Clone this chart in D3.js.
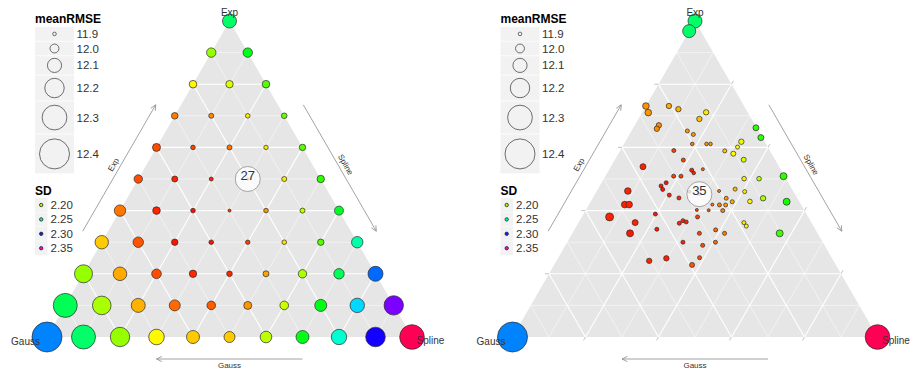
<!DOCTYPE html>
<html lang="en">
<head>
<meta charset="UTF-8">
<title>Ternary meanRMSE</title>
<script src="https://cdn.jsdelivr.net/npm/d3@7"></script>
<style>
    body {
        margin: 0;
        background: #fff;
    }

    svg {
        display: block;
        font-family: "Liberation Sans", Arial, sans-serif;
    }
</style>
</head>
<body>
<div id="chart"></div>
<script>
// left panel: weight grid in steps of 0.1
// one row per Exp weight (1.0 at the top down to 0.0), Spline weight rising left to right
const gridRMSE = [
    [12.097],
    [12.010, 12.010],
    [11.976, 11.972, 11.976],
    [11.957, 11.927, 11.919, 11.938],
    [11.983, 11.919, 11.927, 11.915, 11.953],
    [11.991, 11.945, 11.908, 11.880, 11.927, 11.972],
    [12.048, 11.976, 11.919, 11.889, 11.919, 11.927, 12.002],
    [12.086, 12.029, 11.953, 11.919, 11.915, 11.919, 11.953, 12.048],
    [12.173, 12.089, 12.014, 11.972, 11.938, 11.945, 11.991, 12.029, 12.116],
    [12.286, 12.184, 12.097, 12.040, 11.995, 11.983, 11.995, 12.059, 12.105, 12.199],
    [12.400, 12.286, 12.199, 12.127, 12.078, 12.040, 12.052, 12.078, 12.123, 12.203, 12.298]
]
const gridSD = [
    [2.244],
    [2.205, 2.231],
    [2.188, 2.194, 2.215],
    [2.169, 2.171, 2.186, 2.212],
    [2.162, 2.160, 2.168, 2.186, 2.215],
    [2.162, 2.155, 2.155, 2.160, 2.186, 2.221],
    [2.168, 2.155, 2.152, 2.158, 2.173, 2.199, 2.234],
    [2.181, 2.163, 2.153, 2.153, 2.160, 2.184, 2.215, 2.254],
    [2.205, 2.176, 2.162, 2.156, 2.156, 2.175, 2.202, 2.241, 2.290],
    [2.241, 2.202, 2.177, 2.166, 2.164, 2.173, 2.197, 2.231, 2.273, 2.325],
    [2.286, 2.244, 2.205, 2.188, 2.181, 2.181, 2.199, 2.231, 2.260, 2.309, 2.371]
]

// right panel: fitted weights (Gauss = 1 - Exp - Spline)
const fitExp = [0.731, 0.710, 0.731, 0.721, 0.711, 0.690, 0.670, 0.659, 0.652, 0.641,
    0.662, 0.631, 0.618, 0.601, 0.611, 0.611, 0.611, 0.589, 0.580, 0.561,
    0.590, 0.560, 0.539, 0.528, 0.519, 0.531, 0.509, 0.509, 0.501, 0.501,
    0.509, 0.488, 0.478, 0.467, 0.462, 0.449, 0.440, 0.462, 0.468, 0.460,
    0.439, 0.439, 0.428, 0.419, 0.419, 0.419, 0.418, 0.418, 0.428, 0.400,
    0.402, 0.401, 0.380, 0.389, 0.380, 0.362, 0.360, 0.368, 0.364, 0.362,
    0.351, 0.339, 0.328, 0.328, 0.341, 0.328, 0.328, 0.300, 0.300, 0.290,
    0.241, 0.249, 0.251, 0.228, 0.429, 1.000, 0.968, 0.000, 0.000, 0.452, 0.460]
const fitSpline = [0.000, 0.017, 0.063, 0.094, 0.175, 0.167, 0.066, 0.066, 0.153, 0.175,
    0.336, 0.365, 0.318, 0.316, 0.187, 0.226, 0.237, 0.287, 0.315, 0.353,
    0.147, 0.188, 0.088, 0.227, 0.237, 0.256, 0.187, 0.207, 0.384, 0.425,
    0.488, 0.177, 0.168, 0.178, 0.085, 0.205, 0.236, 0.335, 0.376, 0.406,
    0.366, 0.467, 0.537, 0.098, 0.110, 0.338, 0.358, 0.375, 0.388, 0.376,
    0.304, 0.337, 0.076, 0.197, 0.317, 0.155, 0.277, 0.283, 0.294, 0.453,
    0.465, 0.387, 0.417, 0.158, 0.225, 0.348, 0.568, 0.317, 0.406, 0.376,
    0.254, 0.297, 0.387, 0.378, 0.436, 0.000, 0.000, 0.000, 1.000, 0.286, 0.255]
const fitRMSE = [11.957, 11.957, 11.934, 11.934, 11.934, 11.934, 11.934, 11.934, 11.908, 11.908,
    11.945, 11.945, 11.934, 11.908, 11.900, 11.900, 11.900, 11.908, 11.927, 11.927,
    11.908, 11.908, 11.945, 11.908, 11.900, 11.889, 11.908, 11.908, 11.919, 11.919,
    11.964, 11.908, 11.908, 11.908, 11.957, 11.908, 11.908, 11.889, 11.908, 11.908,
    11.908, 11.934, 11.964, 11.957, 11.957, 11.889, 11.908, 11.908, 11.908, 11.908,
    11.889, 11.889, 11.983, 11.908, 11.908, 11.945, 11.908, 11.908, 11.908, 11.908,
    11.908, 11.908, 11.908, 11.964, 11.908, 11.908, 11.964, 11.908, 11.908, 11.908,
    11.934, 11.934, 11.908, 11.927, 11.919, 12.097, 12.078, 12.400, 12.298, 11.880, 11.889]
const fitSD = [2.173, 2.173, 2.176, 2.177, 2.186, 2.179, 2.171, 2.171, 2.173, 2.173,
    2.221, 2.221, 2.192, 2.189, 2.169, 2.173, 2.173, 2.181, 2.189, 2.195,
    2.160, 2.160, 2.155, 2.155, 2.155, 2.166, 2.160, 2.160, 2.186, 2.199,
    2.221, 2.153, 2.153, 2.153, 2.155, 2.155, 2.156, 2.169, 2.179, 2.186,
    2.173, 2.202, 2.225, 2.155, 2.155, 2.166, 2.169, 2.173, 2.177, 2.169,
    2.160, 2.163, 2.155, 2.153, 2.160, 2.155, 2.155, 2.155, 2.155, 2.186,
    2.188, 2.166, 2.169, 2.153, 2.153, 2.160, 2.218, 2.155, 2.166, 2.162,
    2.155, 2.155, 2.162, 2.163, 2.188, 2.244, 2.244, 2.286, 2.371, 2.160, 2.160]

// label of the best (lowest meanRMSE) model in each panel
const bestLabel = ['27', '35']
const sizeBreaks = [11.9, 12.0, 12.1, 12.2, 12.3, 12.4]
const sdBreaks = [2.20, 2.25, 2.30, 2.35]

const gridPoints = gridRMSE.flatMap((row, i) => row.map((v, j) => ({
    exp: (gridRMSE.length - 1 - i) / 10,
    spline: j / 10,
    rmse: v,
    sd: gridSD[i][j]
})))
const fitPoints = fitExp.map((e, i) => ({
    exp: e,
    spline: fitSpline[i],
    rmse: fitRMSE[i],
    sd: fitSD[i]
}))

// scales
let x = d3.scaleLinear().domain([0, 1]).range([47, 412])
let y = d3.scaleLinear().domain([0, 1]).range([337, 21])
let r = d3.scaleLinear().domain([11.9, 12.4]).range([1.8, 15])
let hue = d3.scaleLinear().domain([2.15, 2.371]).range([0, 340])
let colour = sd => d3.hsl(hue(sd), 1, 0.5).formatHex()

// ternary -> screen
let P = (e, s) => [x(s + e / 2), y(e)]

let svg = d3.select('#chart').append('svg')
    .attr('width', 910)
    .attr('height', 370)

function drawPanel(offset, pts, label) {
    let g = svg.append('g').attr('transform', `translate(${offset},0)`)

    // background triangle
    g.append('path')
        .attr('d', d3.line()([P(0, 0), P(0, 1), P(1, 0)]) + 'Z')
        .attr('fill', '#e6e6e6')

    // grid lines, major every 0.2
    let steps = d3.range(1, 10)
    let grid = g.append('g')
    steps.forEach(k => {
        let f = k / 10
        let major = k % 2 === 0
        let segs = [
            [P(f, 0), P(f, 1 - f)],
            [P(0, f), P(1 - f, f)],
            [P(0, 1 - f), P(1 - f, 0)]
        ]
        segs.forEach(sg => {
            grid.append('line')
                .attr('x1', sg[0][0]).attr('y1', sg[0][1])
                .attr('x2', sg[1][0]).attr('y2', sg[1][1])
                .attr('stroke', '#fff')
                .attr('stroke-width', major ? 1.1 : 0.5)
        })
        if (major) {
            let ticks = [
                [P(f, 0), [-1, 0]],
                [P(1 - f, f), [0.5, -0.866]],
                [P(0, 1 - f), [-0.5, 0.866]]
            ]
            ticks.forEach(t => {
                grid.append('line')
                    .attr('x1', t[0][0]).attr('y1', t[0][1])
                    .attr('x2', t[0][0] + t[1][0] * 4).attr('y2', t[0][1] + t[1][1] * 4)
                    .attr('stroke', '#999')
                    .attr('stroke-width', 0.6)
            })
        }
    })

    // axis arrows
    let arrows = [
        {name: 'Exp', at: f => P(f, 0), n: [-0.866, -0.5], rot: -60},
        {name: 'Spline', at: f => P(1 - f, f), n: [0.866, -0.5], rot: 60},
        {name: 'Gauss', at: f => P(0, 1 - f), n: [0, 1], rot: 0}
    ]
    arrows.forEach(a => {
        let p0 = a.at(0.3), p1 = a.at(0.7), pm = a.at(0.5)
        let s = [p0[0] + a.n[0] * 22, p0[1] + a.n[1] * 22]
        let e = [p1[0] + a.n[0] * 22, p1[1] + a.n[1] * 22]
        let ang = Math.atan2(e[1] - s[1], e[0] - s[0])
        let head = [-0.45, 0.45].map(da => [
            e[0] - 6 * Math.cos(ang + da), e[1] - 6 * Math.sin(ang + da)
        ])
        g.append('line')
            .attr('x1', s[0]).attr('y1', s[1])
            .attr('x2', e[0]).attr('y2', e[1])
            .attr('stroke', '#8c8c8c')
            .attr('stroke-width', 0.8)
        g.append('path')
            .attr('d', d3.line()([head[0], e, head[1]]))
            .attr('fill', 'none')
            .attr('stroke', '#8c8c8c')
            .attr('stroke-width', 0.8)
        let lx = pm[0] + a.n[0] * 28.5, ly = pm[1] + a.n[1] * 28.5
        g.append('text')
            .attr('transform', `translate(${lx},${ly}) rotate(${a.rot})`)
            .attr('text-anchor', 'middle')
            .attr('dominant-baseline', 'central')
            .attr('font-size', 8)
            .attr('fill', '#333')
            .text(a.name)
    })

    // points
    g.append('g').selectAll('circle')
        .data(pts)
        .enter()
        .append('circle')
        .attr('cx', d => P(d.exp, d.spline)[0])
        .attr('cy', d => P(d.exp, d.spline)[1])
        .attr('r', d => r(d.rmse))
        .attr('fill', d => colour(d.sd))
        .attr('stroke', '#2a2a2a')
        .attr('stroke-width', 0.7)

    // best model
    let best = d3.least(pts, d => d.rmse)
    let bp = P(best.exp, best.spline)
    g.append('circle')
        .attr('cx', bp[0]).attr('cy', bp[1])
        .attr('r', 12.5)
        .attr('fill', '#fff')
        .attr('fill-opacity', 0.78)
        .attr('stroke', '#9a9a9a')
        .attr('stroke-width', 0.9)
    g.append('text')
        .attr('x', bp[0]).attr('y', bp[1] + 0.5)
        .attr('text-anchor', 'middle')
        .attr('font-size', 13)
        .attr('fill', '#333')
        .text(label)

    // corner names
    let top = P(1, 0), left = P(0, 0), right = P(0, 1)
    g.append('text').attr('x', top[0]).attr('y', top[1] - 5.5)
        .attr('text-anchor', 'middle').attr('font-size', 10).attr('fill', '#333').text('Exp')
    g.append('text').attr('x', left[0] - 7).attr('y', left[1] + 8)
        .attr('text-anchor', 'end').attr('font-size', 10).attr('fill', '#333').text('Gauss')
    g.append('text').attr('x', right[0] + 4.5).attr('y', right[1] + 7)
        .attr('text-anchor', 'start').attr('font-size', 10).attr('fill', '#333').text('Spline')

    // legend: meanRMSE
    let lg = g.append('g')
    lg.append('text').attr('x', 35).attr('y', 23)
        .attr('font-size', 12).attr('font-weight', 'bold').text('meanRMSE')
    let ky = 27
    sizeBreaks.forEach(v => {
        let h = Math.max(13.8, 2.6 * r(v))
        lg.append('rect').attr('x', 35).attr('y', ky).attr('width', 39).attr('height', h)
            .attr('fill', '#f2f2f2')
        lg.append('circle').attr('cx', 54.5).attr('cy', ky + h / 2).attr('r', r(v))
            .attr('fill', 'none').attr('stroke', '#333').attr('stroke-width', 0.7)
        lg.append('text').attr('x', 76.5).attr('y', ky + h / 2)
            .attr('dominant-baseline', 'central')
            .attr('font-size', 11.5).attr('fill', '#333').text(d3.format('.1f')(v))
        ky += h + 0.8
    })

    // legend: SD
    lg.append('text').attr('x', 35).attr('y', 195)
        .attr('font-size', 12).attr('font-weight', 'bold').text('SD')
    sdBreaks.forEach((v, i) => {
        let yy = 198 + i * 14.4
        lg.append('rect').attr('x', 35).attr('y', yy).attr('width', 12.5).attr('height', 14)
            .attr('fill', '#f2f2f2')
        lg.append('circle').attr('cx', 41.2).attr('cy', yy + 7).attr('r', 1.7)
            .attr('fill', colour(v)).attr('stroke', '#222').attr('stroke-width', 0.8)
        lg.append('text').attr('x', 50.5).attr('y', yy + 7)
            .attr('dominant-baseline', 'central')
            .attr('font-size', 11.5).attr('fill', '#333').text(d3.format('.2f')(v))
    })
}

drawPanel(0, gridPoints, bestLabel[0])
drawPanel(465.5, fitPoints, bestLabel[1])
</script>
</body>
</html>
